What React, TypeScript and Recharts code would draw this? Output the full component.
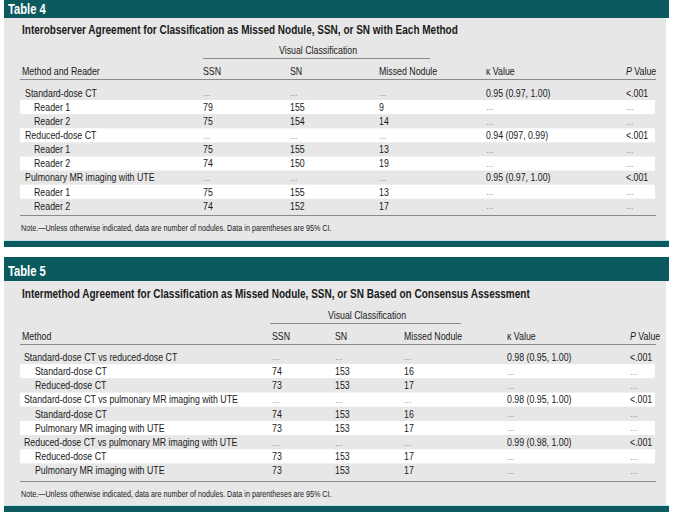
import React from 'react';
import { BarChart, Bar, XAxis, YAxis } from 'recharts';

// Table 4 data
const t4Labels = [
  'Standard-dose CT', 'Reader 1', 'Reader 2',
  'Reduced-dose CT', 'Reader 1', 'Reader 2',
  'Pulmonary MR imaging with UTE', 'Reader 1', 'Reader 2',
];
const t4Indent = [0, 1, 1, 0, 1, 1, 0, 1, 1];
const t4SSN = ['…', '79', '75', '…', '75', '74', '…', '75', '74'];
const t4SN = ['…', '155', '154', '…', '155', '150', '…', '155', '152'];
const t4Missed = ['…', '9', '14', '…', '13', '19', '…', '13', '17'];
const t4Kappa = ['0.95 (0.97, 1.00)', '…', '…', '0.94 (097, 0.99)', '…', '…', '0.95 (0.97, 1.00)', '…', '…'];
const t4P = ['<.001', '…', '…', '<.001', '…', '…', '<.001', '…', '…'];

// Table 5 data
const t5Labels = [
  'Standard-dose CT vs reduced-dose CT', 'Standard-dose CT', 'Reduced-dose CT',
  'Standard-dose CT vs pulmonary MR imaging with UTE', 'Standard-dose CT', 'Pulmonary MR imaging with UTE',
  'Reduced-dose CT vs pulmonary MR imaging with UTE', 'Reduced-dose CT', 'Pulmonary MR imaging with UTE',
];
const t5Indent = [0, 1, 1, 0, 1, 1, 0, 1, 1];
const t5SSN = ['…', '74', '73', '…', '74', '73', '…', '73', '73'];
const t5SN = ['…', '153', '153', '…', '153', '153', '…', '153', '153'];
const t5Missed = ['…', '16', '17', '…', '16', '17', '…', '17', '17'];
const t5Kappa = ['0.98 (0.95, 1.00)', '…', '…', '0.98 (0.95, 1.00)', '…', '…', '0.99 (0.98, 1.00)', '…', '…'];
const t5P = ['<.001', '…', '…', '<.001', '…', '…', '<.001', '…', '…'];

const NOTE = 'Note.—Unless otherwise indicated, data are number of nodules. Data in parentheses are 95% CI.';

const TEAL = '#0b5a5f';
const PANEL = '#e7e7e7';
const INK = '#1a1a1a';
const FONT = "'Liberation Sans', Arial, sans-serif";
const SQUEEZE = 0.8; // condensed look

interface RowEntry {
  label: string;
  indent: number;
  cells: string[];
  span: number;
}

const buildRows = (labels: string[], indent: number[], cols: string[][]): RowEntry[] =>
  labels.map((label, i) => ({
    label,
    indent: indent[i],
    cells: cols.map(c => c[i]),
    span: 1,
  }));

interface TableSpec {
  top: number;
  barH: number;
  name: string;
  title: string;
  firstHeader: string;
  colX: number[];     // SSN, SN, Missed, kappa, P (absolute x)
  vcLine: [number, number];
  rows: RowEntry[];
  bodyTop: number;
  rowH: number;
  groupX: number;
  subX: number;
  titleY: number;
  vcY: number;
  headY: number;
  footLineY: number;
  noteY: number;
  bottomY: number;
}

const t4: TableSpec = {
  top: 0, barH: 18, name: 'Table 4',
  title: 'Interobserver Agreement for Classification as Missed Nodule, SSN, or SN with Each Method',
  firstHeader: 'Method and Reader',
  colX: [203, 290, 379, 486, 626],
  vcLine: [203, 430],
  rows: buildRows(t4Labels, t4Indent, [t4SSN, t4SN, t4Missed, t4Kappa, t4P]),
  bodyTop: 86, rowH: 14.1, groupX: 25, subX: 34,
  titleY: 30, vcY: 50, headY: 71, footLineY: 215, noteY: 228, bottomY: 241,
};

const t5: TableSpec = {
  top: 257, barH: 24, name: 'Table 5',
  title: 'Intermethod Agreement for Classification as Missed Nodule, SSN, or SN Based on Consensus Assessment',
  firstHeader: 'Method',
  colX: [272, 335, 404, 507, 630],
  vcLine: [270, 461],
  rows: buildRows(t5Labels, t5Indent, [t5SSN, t5SN, t5Missed, t5Kappa, t5P]),
  bodyTop: 350, rowH: 14.2, groupX: 24, subX: 35,
  titleY: 294, vcY: 315, headY: 336, footLineY: 481, noteY: 494, bottomY: 506,
};

const CHART_LEFT = 20;
const CHART_W = 635;

const Txt: React.FC<{ x: number; y: number; size?: number; bold?: boolean; color?: string; children: React.ReactNode }> =
  ({ x, y, size = 11, bold, color = INK, children }) => (
    <div style={{
      position: 'absolute', left: x, top: y - 8, lineHeight: '16px', height: 16,
      fontSize: size, fontWeight: bold ? 700 : 400, color, whiteSpace: 'nowrap',
      transform: `scaleX(${SQUEEZE})`, transformOrigin: 'left center',
    }}>{children}</div>
  );

const HLine: React.FC<{ x1: number; x2: number; y: number; color?: string }> = ({ x1, x2, y, color = '#8a8a8a' }) => (
  <div style={{ position: 'absolute', left: x1, top: y, width: x2 - x1, height: 1, background: color }} />
);

// which table a row belongs to is carried on the payload
const spec = (payload: any): TableSpec => (payload.table === 5 ? t5 : t4);

const Cell = ({ x, y, text }: { x: number; y: number; text: string }) => {
  const dots = text === '…';
  return (
    <text transform={`translate(${x},${y}) scale(${SQUEEZE},1)`} dominantBaseline="central"
      fontSize={dots ? 9.5 : 11} fill={dots ? '#7a7a7a' : INK} fontFamily={FONT}>
      {text}
    </text>
  );
};

const RowShape = (props: any) => {
  const { x, y, width, height, payload, index } = props;
  const s = spec(payload);
  const cy = y + height / 2;
  const labelX = (payload.indent ? s.subX : s.groupX) - CHART_LEFT;
  return (
    <g>
      <rect x={x} y={y} width={width} height={height} fill={index % 2 === 1 ? '#ffffff' : 'transparent'} />
      <Cell x={labelX} y={cy} text={payload.label} />
      {payload.cells.map((c: string, j: number) => (
        <Cell key={j} x={s.colX[j] - CHART_LEFT} y={cy} text={c} />
      ))}
    </g>
  );
};

const Table: React.FC<{ s: TableSpec; id: number }> = ({ s, id }) => {
  const data = s.rows.map(r => ({ ...r, table: id }));
  const h = s.rowH * s.rows.length;
  return (
    <>
      <div style={{ position: 'absolute', left: 4, top: s.top, width: 665, height: s.barH, background: TEAL }} />
      <Txt x={8} y={s.top + s.barH / 2 + (id === 5 ? 2 : 0)} size={14} bold color="#ffffff">{s.name}</Txt>
      <div style={{ position: 'absolute', left: 4, top: s.top + s.barH, width: 662, height: s.bottomY - s.top - s.barH, background: PANEL }} />
      <Txt x={22} y={s.titleY} size={12.5} bold>{s.title}</Txt>
      <Txt x={(s.vcLine[0] + s.vcLine[1]) / 2 - 38} y={s.vcY} size={11}>Visual Classification</Txt>
      <HLine x1={s.vcLine[0]} x2={s.vcLine[1]} y={s.vcY + 8} />
      <Txt x={22} y={s.headY} size={11}>{s.firstHeader}</Txt>
      <Txt x={s.colX[0]} y={s.headY} size={11}>SSN</Txt>
      <Txt x={s.colX[1]} y={s.headY} size={11}>SN</Txt>
      <Txt x={s.colX[2]} y={s.headY} size={11}>Missed Nodule</Txt>
      <Txt x={s.colX[3]} y={s.headY} size={11}>κ Value</Txt>
      <Txt x={s.colX[4]} y={s.headY} size={11}><i>P</i> Value</Txt>
      <HLine x1={20} x2={656} y={s.headY + 8} />
      <div style={{ position: 'absolute', left: CHART_LEFT, top: s.bodyTop }}>
        <BarChart width={CHART_W} height={h} data={data} layout="vertical"
          margin={{ top: 0, right: 0, bottom: 0, left: 0 }} barCategoryGap={0}>
          <XAxis type="number" domain={[0, 1]} hide />
          <YAxis type="category" dataKey="label" hide />
          <Bar dataKey="span" isAnimationActive={false} shape={RowShape} />
        </BarChart>
      </div>
      <HLine x1={20} x2={656} y={s.footLineY} />
      <Txt x={21} y={s.noteY} size={9}>{NOTE}</Txt>
      <div style={{ position: 'absolute', left: 4, top: s.bottomY - 1, width: 665, height: 1, background: '#bfe3e6' }} />
      <div style={{ position: 'absolute', left: 4, top: s.bottomY, width: 665, height: 6, background: TEAL }} />
    </>
  );
};

const App: React.FC = () => (
  <div style={{
    position: 'absolute', left: 0, top: 0, width: 674, height: 513, background: '#ffffff',
    fontFamily: FONT, color: INK, overflow: 'hidden',
  }}>
    <Table s={t4} id={4} />
    <Table s={t5} id={5} />
  </div>
);

export default App;
